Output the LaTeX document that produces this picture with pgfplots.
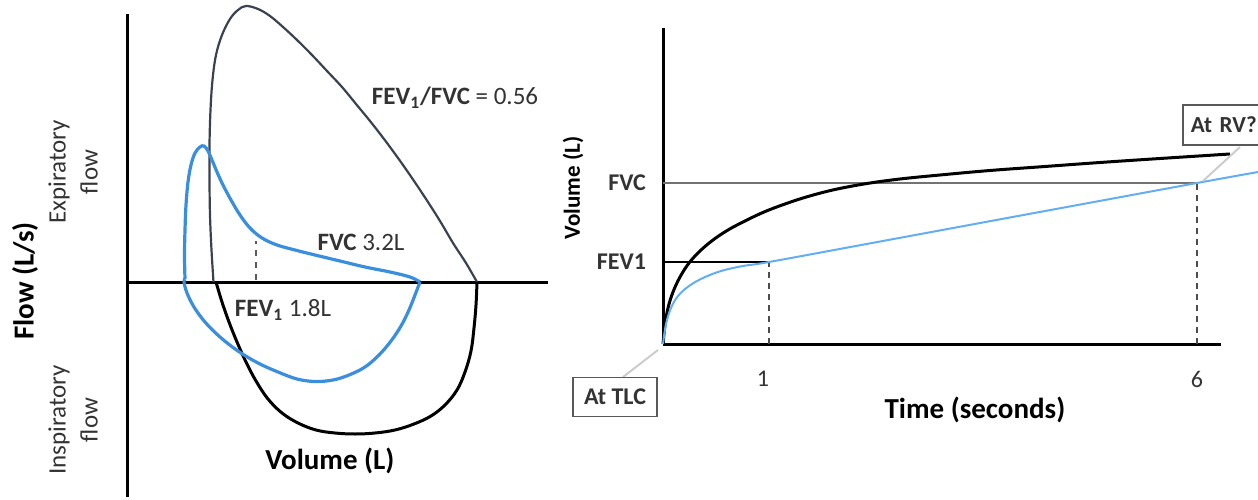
\documentclass[border=0pt]{standalone}
\usepackage{pgfplots}
\pgfplotsset{compat=1.18}
\usepackage{fontspec}
\setmainfont{Carlito}
\definecolor{slate}{HTML}{3A4252}
\definecolor{lblue}{HTML}{3A8EDE}
\definecolor{rblue}{HTML}{62AEF0}
\definecolor{txt}{HTML}{333333}
\begin{document}
\begin{tikzpicture}
\useasboundingbox (0,0) rectangle (629pt,249.5pt);
% ---------------- left: flow-volume loop ----------------
\begin{axis}[
 at={(63.5pt,1pt)}, anchor=south west,
 scale only axis, width=210.5pt, height=241.5pt,
 xmin=0, xmax=421, ymin=-215, ymax=268, enlargelimits=false,
 axis lines=middle, axis line style={-,line width=1.5pt,black},
 xtick=\empty, ytick=\empty, clip=false,
 xlabel={Volume (L)}, ylabel={Flow (L/s)},
 xlabel style={at={(axis description cs:0.482,0.0745)},anchor=center,font=\fontsize{14.5}{17}\selectfont\bfseries},
 ylabel style={at={(axis description cs:-0.242,0.447)},anchor=center,rotate=90,font=\fontsize{14.5}{17}\selectfont\bfseries},
]
\addplot[slate, line width=1.1pt, smooth, tension=0.6] coordinates {
 (86.5,0) (84.5,32) (83,67) (82.5,102) (82.5,137) (83.5,172) (85.5,202) (89,227)
 (95,247) (103,263) (111,272) (119,276) (131,273) (143,266) (156,255) (170,242)
 (185,227) (200,211) (215,195) (229,178) (243,161) (257,143) (271,124) (285,104)
 (299,83) (313,61) (326,39) (339,19) (350,0)};
\addplot[black, line width=1.5pt, smooth, tension=0.6] coordinates {
 (89,0) (95,-20) (102,-40) (110,-60) (119,-80) (129,-99) (141,-117) (155,-131)
 (171,-141) (189,-148) (208,-151) (228,-152) (248,-151) (268,-148) (287,-142)
 (304,-134) (318,-123) (330,-108) (338,-90) (344,-69) (347,-46) (349,-23) (350,0)};
\addplot[lblue, line width=1.6pt, smooth, tension=0.6] coordinates {
 (58,3) (57.5,27) (58,52) (59,77) (61,100) (64,117) (68,129) (73,135) (77,136)
 (81,131) (85,122) (90,110) (96,97) (104,82) (113,67) (123,54) (135,44) (150,37)
 (168,32) (188,27) (213,21) (238,15) (263,10) (283,5) (293,0)};
\addplot[lblue, line width=1.6pt, smooth, tension=0.6] coordinates {
 (293,0) (288,-13) (282,-28) (274,-44) (264,-59) (252,-73) (238,-85) (222,-93)
 (206,-98) (188,-99.5) (170,-97) (151,-90) (131,-81) (111,-69) (93,-55) (78,-40)
 (67,-25) (60,-11) (57,0) (58,3)};
\addplot[black!65, dashed, line width=1pt] coordinates {(129,2) (129,41)};
\node[font=\fontsize{12.5}{15}\selectfont, text=txt] at (axis cs:328,184)
 {\textbf{FEV\textsubscript{1}/FVC} = 0.56};
\node[font=\fontsize{12.5}{15}\selectfont, text=txt] at (axis cs:234,40)
 {\textbf{FVC} 3.2L};
\node[font=\fontsize{12.5}{15}\selectfont, text=txt] at (axis cs:156,-28)
 {\textbf{FEV\textsubscript{1}} 1.8L};
\node[rotate=90, align=center, font=\fontsize{12.5}{16}\selectfont, text=txt] at (axis cs:-54,110)
 {Expiratory\\flow};
\node[rotate=90, align=center, font=\fontsize{12.5}{16}\selectfont, text=txt] at (axis cs:-54,-138)
 {Inspiratory\\flow};
\end{axis}
% ---------------- right: volume-time ----------------
\begin{axis}[
 at={(331.5pt,77.5pt)}, anchor=south west,
 scale only axis, width=279pt, height=158pt,
 xmin=0, xmax=558, ymin=0, ymax=316, enlargelimits=false,
 axis lines=left, axis line style={-,line width=1.5pt,black},
 xtick={100,534}, xticklabels={1,6}, ytick={82,161}, yticklabels={FEV1,FVC},
 major tick length=0pt,
 xticklabel style={font=\fontsize{12}{14}\selectfont, text=txt, yshift=-10pt},
 yticklabel style={font=\fontsize{12}{14}\selectfont\bfseries, text=txt, xshift=-5pt},
 clip=false,
 xlabel={Time (seconds)}, ylabel={Volume (L)},
 xlabel style={at={(axis description cs:0.559,-0.209)},anchor=center,font=\fontsize{14.5}{17}\selectfont\bfseries},
 ylabel style={at={(axis description cs:-0.161,0.494)},anchor=center,font=\fontsize{11.5}{14}\selectfont\bfseries},
]
\addplot[black!55, line width=1pt] coordinates {(0,161) (534,161)};
\addplot[black, line width=1pt] coordinates {(0,82) (106,82)};
\addplot[black!70, dashed, dash pattern=on 3pt off 2.5pt, line width=0.9pt] coordinates {(106,0) (106,82)};
\addplot[black!70, dashed, dash pattern=on 3pt off 2.5pt, line width=0.9pt] coordinates {(534,0) (534,161)};
\addplot[black, line width=1.5pt, smooth, tension=0.6] coordinates {
 (0,0) (2,19) (5,36) (10,52) (17,67) (26,81) (37,93) (50,104) (65,114) (82,123)
 (101,132) (122,140) (145,147.5) (172,154.5) (204,160.5) (237,165) (277,169)
 (327,173.5) (382,177.5) (437,181.5) (497,185.5) (567,190)};
\addplot[rblue, line width=1pt, smooth, tension=0.6] coordinates {
 (0,0) (3,20) (8,36) (15,48) (26,58) (40,66) (58,73) (80,78) (106,82)
 (209,101) (342,125.6) (431,142) (534,161) (595,172)};
\addplot[black!20, line width=1pt] coordinates {(-40,-33) (-5,-6)};
\addplot[black!20, line width=1pt] coordinates {(577,197) (540,163)};
\node[draw=black!65, line width=0.8pt, fill=white, minimum width=42pt, minimum height=19.5pt,
 inner sep=0pt, font=\fontsize{12}{14}\selectfont\bfseries, text=txt] at (axis cs:-48,-53) {At TLC};
\node[draw=black!65, line width=0.8pt, fill=white, anchor=west, minimum height=20pt,
 inner xsep=4pt, inner ysep=0pt, text width=37pt, align=left,
 font=\fontsize{11.5}{14}\selectfont\bfseries, text=txt] at (axis cs:519,219) {At RV?};
\end{axis}
\end{tikzpicture}
\end{document}
